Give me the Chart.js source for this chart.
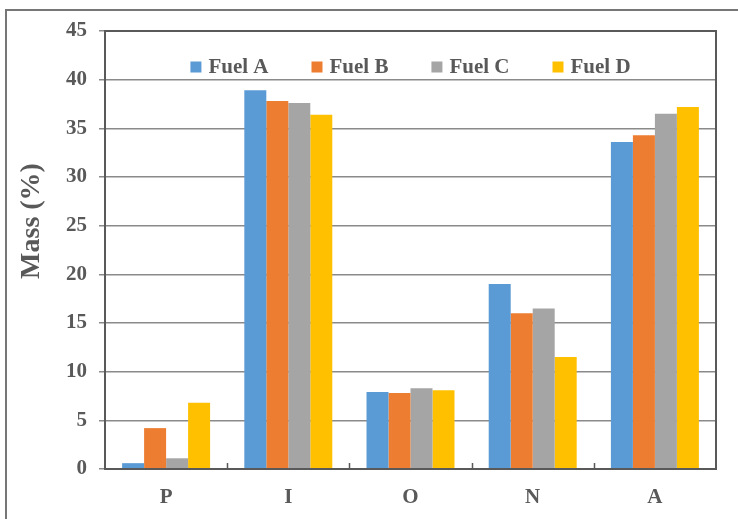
<!DOCTYPE html>
<html>
<head>
    <meta charset="UTF-8">
    <script src="https://cdn.jsdelivr.net/npm/chart.js"></script>
    <style>
        body { margin: 0; overflow: hidden; background: #fff; }
        #frame { position: absolute; left: 5px; top: 9px; width: 760px; height: 560px; border: 2px solid #767676; }
        #wrap { position: absolute; left: 0; top: 0; width: 738px; height: 519px; }
    </style>
</head>
<body>
    <div id="frame"></div>
    <div id="wrap"><canvas id="myChart"></canvas></div>
    <script>
        const categories = ['P', 'I', 'O', 'N', 'A'];
        const seriesNames = ['Fuel A', 'Fuel B', 'Fuel C', 'Fuel D'];
        const fuelA = [0.6, 38.9, 7.9, 19.0, 33.6];
        const fuelB = [4.2, 37.8, 7.8, 16.0, 34.3];
        const fuelC = [1.1, 37.6, 8.3, 16.5, 36.5];
        const fuelD = [6.8, 36.4, 8.1, 11.5, 37.2];
        const yMin = 0, yMax = 45, yStep = 5;
        const yTitle = 'Mass (%)';

        const colors = ['#5B9BD5', '#ED7D31', '#A5A5A5', '#FFC000'];
        const textColor = '#595959';
        const serif = "'Liberation Serif', 'Times New Roman', serif";

        // plot frame, small category ticks, y title and legend inside the plot
        const extrasPlugin = {
            id: 'extras',
            afterDraw(chart) {
                const { ctx, chartArea: a, scales: { x } } = chart;
                ctx.save();
                ctx.strokeStyle = '#595959';
                ctx.lineWidth = 2;
                ctx.strokeRect(a.left, a.top, a.right - a.left, a.bottom - a.top);
                const w = (a.right - a.left) / categories.length;
                ctx.beginPath();
                for (let i = 1; i < categories.length; i++) {
                    const px = Math.round(x.getPixelForValue(i) - w / 2) + 0.5;
                    ctx.moveTo(px, a.bottom);
                    ctx.lineTo(px, a.bottom - 6);
                }
                ctx.lineWidth = 1.5;
                ctx.stroke();

                // y axis title
                ctx.fillStyle = textColor;
                ctx.font = 'bold 28px ' + serif;
                ctx.textAlign = 'center';
                ctx.textBaseline = 'middle';
                ctx.save();
                ctx.translate(32, 221);
                ctx.rotate(-Math.PI / 2);
                ctx.fillText(yTitle, 0, 0);
                ctx.restore();

                // legend
                ctx.font = 'bold 21px ' + serif;
                ctx.textAlign = 'left';
                const box = 11, gapText = 7, gapItem = 43;
                const items = chart.data.datasets.map(ds => ({
                    label: ds.label, color: ds.backgroundColor,
                    w: box + gapText + ctx.measureText(ds.label).width
                }));
                const total = items.reduce((s, it) => s + it.w, 0) + gapItem * (items.length - 1);
                let lx = (a.left + a.right) / 2 - total / 2;
                const ly = a.top + 36;
                items.forEach(it => {
                    ctx.fillStyle = it.color;
                    ctx.fillRect(lx, ly - box / 2, box, box);
                    ctx.fillStyle = textColor;
                    ctx.fillText(it.label, lx + box + gapText, ly + 1);
                    lx += it.w + gapItem;
                });
                ctx.restore();
            }
        };

        const ctx = document.getElementById('myChart').getContext('2d');
        new Chart(ctx, {
            type: 'bar',
            data: {
                labels: categories,
                datasets: [fuelA, fuelB, fuelC, fuelD].map((d, i) => ({
                    label: seriesNames[i],
                    data: d,
                    backgroundColor: colors[i],
                    barPercentage: 1,
                    categoryPercentage: 0.72
                }))
            },
            options: {
                responsive: true,
                maintainAspectRatio: false,
                animation: false,
                layout: { padding: { top: 31, right: 22, bottom: 0, left: 0 } },
                plugins: {
                    tooltip: { enabled: false },
                    legend: { display: false }
                },
                scales: {
                    x: {
                        grid: { display: false, drawTicks: false },
                        border: { display: true, color: '#595959', width: 2 },
                        ticks: {
                            color: textColor,
                            padding: 16,
                            font: { family: serif, size: 21, weight: 'bold' }
                        },
                        afterFit(scale) { scale.height = 50; }
                    },
                    y: {
                        min: yMin,
                        max: yMax,
                        grid: { color: '#8a8a8a', lineWidth: 1.5, tickLength: 6 },
                        border: { display: true, color: '#595959', width: 2 },
                        ticks: {
                            stepSize: yStep,
                            color: textColor,
                            padding: 12,
                            font: { family: serif, size: 21, weight: 'bold' }
                        },
                        afterFit(scale) { scale.width = 105; }
                    }
                }
            },
            plugins: [extrasPlugin]
        });
    </script>
</body>
</html>
